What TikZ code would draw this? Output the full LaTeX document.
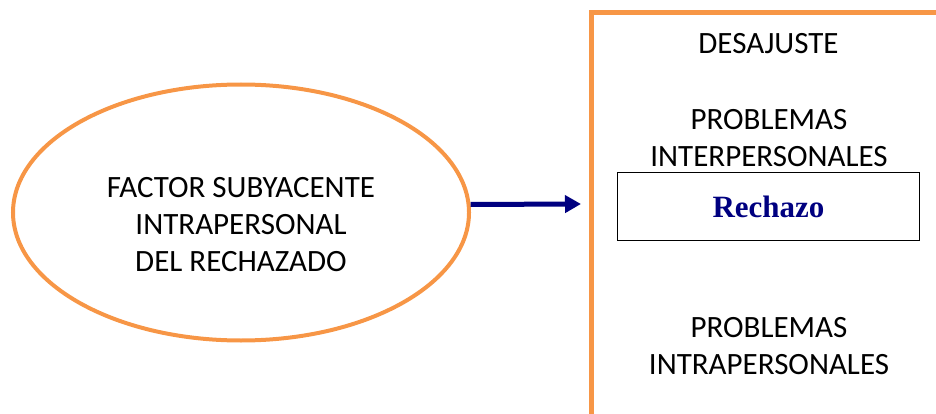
\documentclass[tikz,border=0pt]{standalone}
\usepackage{fontspec}
\setmainfont{Carlito}
\newfontfamily\rechfont{Liberation Serif}
\usetikzlibrary{shapes.geometric,arrows.meta}
\definecolor{orng}{HTML}{F79646}
\definecolor{navy}{HTML}{000080}
\tikzset{
  lbl/.style={font=\fontsize{31}{37}\selectfont, align=center, inner sep=0pt, text=black},
  oval/.style={ellipse, draw=orng, line width=4pt, minimum width=456pt, minimum height=256pt, inner sep=0pt},
  bracket/.style={draw=orng, line width=5pt},
  rbox/.style={draw=black, line width=1.5pt, minimum width=302pt, minimum height=68pt, inner sep=0pt},
  link/.style={draw=navy, line width=5pt, -{Triangle[length=16pt,width=17pt]}}
}
\begin{document}
\begin{tikzpicture}[x=1pt,y=-1pt]
\useasboundingbox (0,0) rectangle (936,414);
\node[oval] (e) at (241,212.5) {};
\node[lbl] (etext) at (241,224.5) {FACTOR SUBYACENTE\\INTRAPERSONAL\\DEL RECHAZADO};
\coordinate (top) at (591,12.5);
\coordinate (bot) at (591,416);
\coordinate (topr) at (938,12.5);
\draw[bracket] (bot) -- (top) -- (topr);
\coordinate (tip) at (581,204);
\draw[link] (e.2) -- (tip);
\node[lbl] (des) at (768.5,44) {DESAJUSTE};
\node[lbl] (inter) at (769,137.8) {PROBLEMAS\\INTERPERSONALES};
\node[rbox] (rech) at (768.5,206.5) {};
\node[font=\rechfont\bfseries\fontsize{31}{36}\selectfont, text=navy, inner sep=0pt] (rtext) at (rech.center) {Rechazo};
\node[lbl] (intra) at (769,346) {PROBLEMAS\\INTRAPERSONALES};
\end{tikzpicture}
\end{document}
